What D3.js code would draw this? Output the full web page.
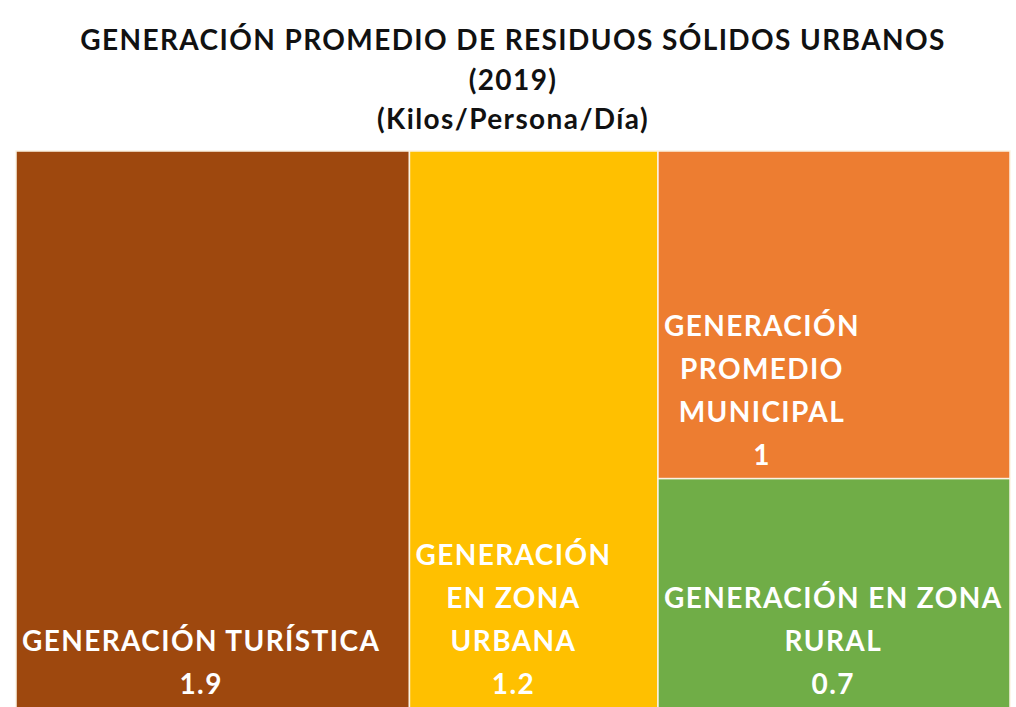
<!DOCTYPE html>
<html>
<head>
<meta charset="utf-8">
<script src="https://cdn.jsdelivr.net/npm/d3@7"></script>
<style>
  body { margin: 0; background: #fff; }
  svg { display: block; font-family: Lato, "Open Sans", sans-serif; font-weight: bold; }
</style>
</head>
<body>
<div id="chart"></div>
<script>
(function (d3) {
    'use strict';

    var titleLines = [
        'GENERACIÓN PROMEDIO DE RESIDUOS SÓLIDOS URBANOS',
        '(2019)',
        '(Kilos/Persona/Día)'
    ];
    var categories = ['turistica', 'urbana', 'municipal', 'rural'];
    var labels = [
        ['GENERACIÓN TURÍSTICA'],
        ['GENERACIÓN', 'EN ZONA', 'URBANA'],
        ['GENERACIÓN', 'PROMEDIO', 'MUNICIPAL'],
        ['GENERACIÓN EN ZONA', 'RURAL']
    ];
    var values = [1.9, 1.2, 1, 0.7];
    var colors = ['#9E480E', '#FFC000', '#ED7D31', '#70AD47'];

    // Dimensions of the chart.
    var width = 1016;
    var height = 707;
    var margin = {top: 151, right: 6, bottom: -1, left: 16};
    var innerW = width - margin.left - margin.right;
    var innerH = height - margin.top - margin.bottom;
    var fontSize = 28;
    var spacing = 1.4;
    var lineH = 43;

    var svg = d3.select('#chart').append('svg')
        .attr('width', width)
        .attr('height', height);

    svg.append('rect')
        .attr('width', width)
        .attr('height', height)
        .attr('fill', '#fff');

    // Title
    svg.append('g')
        .selectAll('text')
        .data(titleLines)
        .join('text')
        .attr('x', width / 2 + 5)
        .attr('y', function(d, i) { return 50 + i * 39.5; })
        .attr('text-anchor', 'middle')
        .attr('font-size', fontSize)
        .attr('letter-spacing', spacing)
        .attr('fill', '#111')
        .text(function(d) { return d; });

    // leaves as data, last two stacked in one column
    var leaves = categories.map(function(c, i) {
        return {name: c, value: values[i], label: labels[i], color: colors[i]};
    });
    var tree = {children: [leaves[0], leaves[1], {children: [leaves[2], leaves[3]]}]};

    var root = d3.hierarchy(tree).sum(function(d) { return d.value || 0; });

    d3.treemap()
        .tile(d3.treemapSliceDice)
        .size([innerW, innerH])
        .round(false)(root);

    var vis = svg.append('g')
        .attr('transform', 'translate(' + margin.left + ',' + margin.top + ')');

    var cell = vis.selectAll('g.cell')
        .data(root.leaves())
        .join('g')
        .attr('class', 'cell');

    cell.append('rect')
        .attr('x', function(d) { return d.x0; })
        .attr('y', function(d) { return d.y0; })
        .attr('width', function(d) { return d.x1 - d.x0; })
        .attr('height', function(d) { return d.y1 - d.y0; })
        .attr('fill', function(d) { return d.data.color; })
        .attr('stroke', '#fbf3e4')
        .attr('stroke-width', 1.5);

    cell.each(function(d) {
        var g = d3.select(this);
        var lines = d.data.label.concat([String(d.data.value)]);
        var t = g.append('g');
        t.selectAll('text')
            .data(lines)
            .join('text')
            .attr('y', function(l, i) { return d.y1 - 14 - (lines.length - 1 - i) * lineH; })
            .attr('text-anchor', 'middle')
            .attr('font-size', fontSize)
            .attr('letter-spacing', spacing)
            .attr('fill', '#fff')
            .text(function(l) { return l; });
        // block starts at the left of the cell, lines centred on the widest one
        var maxW = 0;
        t.selectAll('text').each(function() {
            maxW = Math.max(maxW, this.getComputedTextLength());
        });
        t.selectAll('text').attr('x', d.x0 + 6 + maxW / 2);
    });
})(d3);
</script>
</body>
</html>
